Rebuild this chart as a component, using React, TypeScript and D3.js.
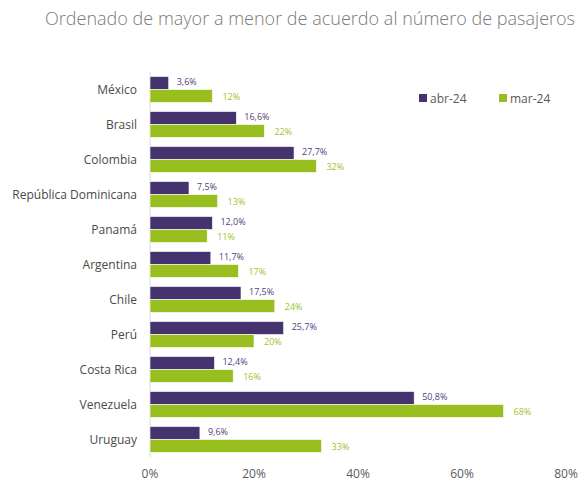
import React, { useRef, useEffect } from 'react';
import * as d3 from 'd3';

const countries = ['México', 'Brasil', 'Colombia', 'República Dominicana', 'Panamá', 'Argentina', 'Chile', 'Perú', 'Costa Rica', 'Venezuela', 'Uruguay'];
const abr24 = [3.6, 16.6, 27.7, 7.5, 12.0, 11.7, 17.5, 25.7, 12.4, 50.8, 9.6];
const mar24 = [12, 22, 32, 13, 11, 17, 24, 20, 16, 68, 33];
const ticks = [0, 20, 40, 60, 80];

const PURPLE = '#45336f';
const GREEN = '#98bf1f';
const FONT = '"Open Sans", sans-serif';

const App = () => {
  const svgRef = useRef<SVGSVGElement>(null);

  useEffect(() => {
    const svg = d3.select(svgRef.current);
    svg.selectAll('*').remove();

    const x = d3.scaleLinear().domain([0, 80]).range([150, 566]);
    const y = d3.scaleBand().domain(countries).range([72, 457]).paddingInner(0.26).paddingOuter(0.13);
    const bh = y.bandwidth() / 2;

    // title
    svg.append('text')
      .attr('x', 45).attr('y', 25)
      .attr('textLength', 530)
      .attr('lengthAdjust', 'spacing')
      .style('font-family', FONT).style('font-size', '18px').style('font-weight', 300)
      .attr('fill', '#7a7a7a')
      .text('Ordenado de mayor a menor de acuerdo al número de pasajeros');

    // axis line
    svg.append('line')
      .attr('x1', x(0)).attr('x2', x(0))
      .attr('y1', 72).attr('y2', 457)
      .attr('stroke', '#d9d9d9').attr('stroke-width', 1);

    // x tick labels
    svg.selectAll('.tick')
      .data(ticks)
      .enter()
      .append('text')
      .attr('x', (d) => x(d))
      .attr('y', 478)
      .attr('text-anchor', 'middle')
      .style('font-family', FONT).style('font-size', '12px')
      .attr('fill', '#595959')
      .text((d) => d + '%');

    // category labels
    svg.selectAll('.cat')
      .data(countries)
      .enter()
      .append('text')
      .attr('x', 137)
      .attr('y', (d) => y(d)! + bh + 4)
      .attr('text-anchor', 'end')
      .style('font-family', FONT).style('font-size', '12px')
      .attr('fill', '#4a4a4a')
      .text((d) => d);

    const fmt = (v: number) => v.toFixed(1).replace('.', ',') + '%';

    svg.selectAll('.bar-abr')
      .data(abr24)
      .enter()
      .append('rect')
      .attr('x', x(0))
      .attr('y', (d, i) => y(countries[i])!)
      .attr('width', (d) => x(d) - x(0))
      .attr('height', bh)
      .attr('fill', PURPLE)
      .attr('stroke', '#ffffff').attr('stroke-width', 0.6);

    svg.selectAll('.bar-mar')
      .data(mar24)
      .enter()
      .append('rect')
      .attr('x', x(0))
      .attr('y', (d, i) => y(countries[i])! + bh)
      .attr('width', (d) => x(d) - x(0))
      .attr('height', bh)
      .attr('fill', GREEN)
      .attr('stroke', '#ffffff').attr('stroke-width', 0.6);

    svg.selectAll('.lbl-abr')
      .data(abr24)
      .enter()
      .append('text')
      .attr('x', (d) => x(d) + 8)
      .attr('y', (d, i) => y(countries[i])! + bh / 2 + 2)
      .style('font-family', FONT).style('font-size', '9px')
      .attr('fill', '#4f4180')
      .text((d) => fmt(d));

    svg.selectAll('.lbl-mar')
      .data(mar24)
      .enter()
      .append('text')
      .attr('x', (d) => x(d) + 10)
      .attr('y', (d, i) => y(countries[i])! + bh * 1.5 + 4)
      .style('font-family', FONT).style('font-size', '9px')
      .attr('fill', '#9cc42a')
      .text((d) => d + '%');

    // legend
    const legend = [{ name: 'abr-24', color: PURPLE, x: 419 }, { name: 'mar-24', color: GREEN, x: 499 }];
    legend.forEach((l) => {
      svg.append('rect')
        .attr('x', l.x).attr('y', 94)
        .attr('width', 8).attr('height', 8)
        .attr('fill', l.color);
      svg.append('text')
        .attr('x', l.x + 11).attr('y', 102.5)
        .style('font-family', FONT).style('font-size', '12px')
        .attr('fill', '#595959')
        .text(l.name);
    });
  }, []);

  return (
    <svg ref={svgRef} width={583} height={481} style={{ position: 'absolute', left: 0, top: 0, background: '#fff' }}></svg>
  );
};

export default App;
